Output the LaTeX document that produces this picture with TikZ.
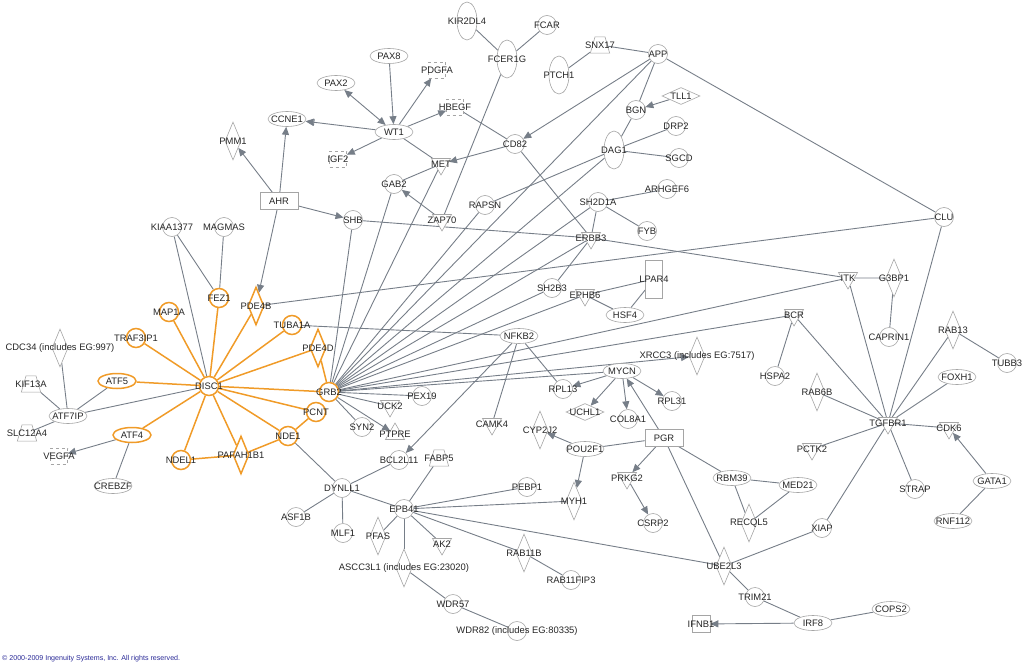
\documentclass[tikz,border=0pt]{standalone}
\usepackage{fontspec}
\setmainfont{Liberation Sans}
\usetikzlibrary{shapes.geometric,arrows.meta,backgrounds}
\definecolor{linegray}{RGB}{118,126,136}
\definecolor{nodegray}{RGB}{165,165,165}
\definecolor{disco}{RGB}{240,155,40}
\definecolor{ipablue}{RGB}{40,40,150}
\newcommand{\lb}[1]{\makebox[0pt]{#1}}
\newcommand{\tb}[1]{\makebox[10pt]{#1}}

\begin{document}
\begin{tikzpicture}[x=1pt,y=-1pt,
    gene/.style={draw=nodegray, line width=0.6pt, fill=white, inner sep=0pt, font=\fontsize{9.4}{11}\selectfont, text=black!85},
    circ/.style={gene, circle, minimum size=19pt},
    ell/.style={gene, ellipse, minimum width=38pt, minimum height=15pt},
    vell/.style={gene, ellipse, minimum width=20pt, minimum height=38pt},
    enz/.style={gene, diamond, minimum width=16pt, minimum height=38pt},
    pep/.style={gene, diamond, minimum width=38pt, minimum height=17pt},
    kin/.style={gene, regular polygon, regular polygon sides=3, shape border rotate=180, minimum size=22pt},
    phos/.style={gene, regular polygon, regular polygon sides=3, minimum size=22pt},
    trans/.style={gene, trapezium, trapezium left angle=74, trapezium right angle=74, inner xsep=0pt, inner ysep=4.8pt},
    nrec/.style={gene, rectangle, minimum width=38pt, minimum height=17pt},
    gpcr/.style={gene, rectangle, minimum width=17pt, minimum height=38pt},
    growf/.style={gene, rectangle, dashed, minimum width=17pt, minimum height=16pt},
    cyto/.style={gene, rectangle, minimum width=18pt, minimum height=17pt},
    hit/.style={draw=disco, line width=1.5pt},
    link/.style={draw=linegray, line width=0.9pt},
    act/.style={link, -{Triangle[length=8pt,width=7pt]}},
    dlink/.style={draw=disco, line width=1.5pt}
]
\useasboundingbox (0,0) rectangle (1024,666);

% DISC1 and its partners
\node[circ, hit] (DISC1) at (209,386) {\lb{DISC1}};
\node[circ, hit] (FEZ1) at (219,298) {\lb{FEZ1}};
\node[circ, hit] (MAP1A) at (169,312) {\lb{MAP1A}};
\node[circ, hit] (TRAF3IP1) at (136,338) {\lb{TRAF3IP1}};
\node[circ, hit] (TUBA1A) at (292,325) {\lb{TUBA1A}};
\node[circ, hit] (GRB2) at (329,392) {\lb{GRB2}};
\node[circ, hit] (PCNT) at (316,412) {\lb{PCNT}};
\node[circ, hit] (NDE1) at (288,436) {\lb{NDE1}};
\node[circ, hit] (NDEL1) at (181,460) {\lb{NDEL1}};
\node[ell, hit] (ATF5) at (117,381) {\lb{ATF5}};
\node[ell, hit] (ATF4) at (132,435) {\lb{ATF4}};
\node[enz, hit] (PDE4B) at (256,306) {\lb{PDE4B}};
\node[enz, hit] (PDE4D) at (318,348) {\lb{PDE4D}};
\node[enz, hit] (PAFAH1B1) at (241,455) {\lb{PAFAH1B1}};

% left side
\node[circ] (KIAA1377) at (172,227) {\lb{KIAA1377}};
\node[circ] (MAGMAS) at (224,227) {\lb{MAGMAS}};
\node[enz] (CDC34) at (60,348) {\lb{CDC34 (includes EG:997)}};
\node[trans] (KIF13A) at (31,384) {\tb{KIF13A}};
\node[ell] (ATF7IP) at (68,416) {\lb{ATF7IP}};
\node[trans] (SLC12A4) at (27,433) {\tb{SLC12A4}};
\node[growf] (VEGFA) at (59,456) {\lb{VEGFA}};
\node[ell] (CREBZF) at (113,486) {\lb{CREBZF}};
\node[enz] (PMM1) at (233,141) {\lb{PMM1}};
\node[nrec] (AHR) at (279,201) {\lb{AHR}};

% top
\node[ell] (PAX8) at (389,56) {\lb{PAX8}};
\node[ell] (PAX2) at (336,83) {\lb{PAX2}};
\node[ell] (CCNE1) at (287,119) {\lb{CCNE1}};
\node[ell] (WT1) at (394,132) {\lb{WT1}};
\node[growf] (PDGFA) at (437,70) {\lb{PDGFA}};
\node[growf] (HBEGF) at (455,107) {\lb{HBEGF}};
\node[growf] (IGF2) at (338,159) {\lb{IGF2}};
\node[kin] (MET) at (441,164) {\lb{MET}};
\node[circ] (GAB2) at (394,184) {\lb{GAB2}};
\node[circ] (SHB) at (353,220) {\lb{SHB}};
\node[kin] (ZAP70) at (442,220) {\lb{ZAP70}};
\node[circ] (RAPSN) at (485,205) {\lb{RAPSN}};
\node[vell] (KIR2DL4) at (467,21) {\lb{KIR2DL4}};
\node[vell] (FCER1G) at (507,59) {\lb{FCER1G}};
\node[circ] (FCAR) at (547,25) {\lb{FCAR}};
\node[trans] (SNX17) at (600,45) {\tb{SNX17}};
\node[vell] (PTCH1) at (559,75) {\lb{PTCH1}};
\node[circ] (APP) at (658,54) {\lb{APP}};
\node[pep] (TLL1) at (681,96) {\lb{TLL1}};
\node[circ] (BGN) at (636,110) {\lb{BGN}};
\node[circ] (CD82) at (515,144) {\lb{CD82}};
\node[vell] (DAG1) at (614,150) {\lb{DAG1}};
\node[circ] (DRP2) at (676,126) {\lb{DRP2}};
\node[circ] (SGCD) at (679,158) {\lb{SGCD}};
\node[circ] (ARHGEF6) at (667,189) {\lb{ARHGEF6}};
\node[circ] (SH2D1A) at (598,202) {\lb{SH2D1A}};
\node[circ] (FYB) at (647,231) {\lb{FYB}};
\node[circ] (CLU) at (944,217) {\lb{CLU}};

% middle
\node[kin] (ERBB3) at (591,238) {\lb{ERBB3}};
\node[circ] (SH2B3) at (552,288) {\lb{SH2B3}};
\node[kin] (EPHB6) at (585,295) {\lb{EPHB6}};
\node[gpcr] (LPAR4) at (654,279) {\lb{LPAR4}};
\node[ell] (HSF4) at (625,315) {\lb{HSF4}};
\node[ell] (NFKB2) at (519,336) {\lb{NFKB2}};
\node[enz] (XRCC3) at (697,356) {\lb{XRCC3 (includes EG:7517)}};
\node[ell] (MYCN) at (622,371) {\lb{MYCN}};
\node[circ] (RPL13) at (563,389) {\lb{RPL13}};
\node[circ] (RPL31) at (672,401) {\lb{RPL31}};
\node[pep] (UCHL1) at (585,412) {\lb{UCHL1}};
\node[circ] (COL8A1) at (628,419) {\lb{COL8A1}};
\node[enz] (CYP2J2) at (540,430) {\lb{CYP2J2}};
\node[nrec] (PGR) at (664,438) {\lb{PGR}};
\node[ell] (POU2F1) at (585,449) {\lb{POU2F1}};
\node[circ] (PEX19) at (422,396) {\lb{PEX19}};
\node[kin] (UCK2) at (390,406) {\lb{UCK2}};
\node[circ] (SYN2) at (362,427) {\lb{SYN2}};
\node[phos] (PTPRE) at (395,434) {\lb{PTPRE}};
\node[kin] (CAMK4) at (492,424) {\lb{CAMK4}};

% right
\node[kin] (ITK) at (848,278) {\lb{ITK}};
\node[enz] (G3BP1) at (894,278) {\lb{G3BP1}};
\node[kin] (BCR) at (794,315) {\lb{BCR}};
\node[circ] (CAPRIN1) at (889,337) {\lb{CAPRIN1}};
\node[enz] (RAB13) at (953,330) {\lb{RAB13}};
\node[circ] (TUBB3) at (1007,363) {\lb{TUBB3}};
\node[circ] (HSPA2) at (775,376) {\lb{HSPA2}};
\node[ell] (FOXH1) at (957,377) {\lb{FOXH1}};
\node[enz] (RAB6B) at (817,392) {\lb{RAB6B}};
\node[kin] (TGFBR1) at (888,423) {\lb{TGFBR1}};
\node[kin] (CDK6) at (949,428) {\lb{CDK6}};
\node[kin] (PCTK2) at (812,449) {\lb{PCTK2}};
\node[circ] (STRAP) at (915,489) {\lb{STRAP}};
\node[ell] (GATA1) at (992,481) {\lb{GATA1}};
\node[ell] (RNF112) at (953,521) {\lb{RNF112}};
\node[ell] (MED21) at (798,485) {\lb{MED21}};
\node[circ] (XIAP) at (822,528) {\lb{XIAP}};

% bottom
\node[circ] (BCL2L11) at (399,460) {\lb{BCL2L11}};
\node[trans] (FABP5) at (439,458) {\tb{FABP5}};
\node[circ] (DYNLL1) at (342,488) {\lb{DYNLL1}};
\node[circ] (EPB41) at (404,509) {\lb{EPB41}};
\node[circ] (ASF1B) at (296,517) {\lb{ASF1B}};
\node[circ] (MLF1) at (343,533) {\lb{MLF1}};
\node[enz] (PFAS) at (378,536) {\lb{PFAS}};
\node[kin] (AK2) at (442,544) {\lb{AK2}};
\node[enz] (ASCC3L1) at (404,568) {\lb{ASCC3L1 (includes EG:23020)}};
\node[circ] (WDR57) at (453,604) {\lb{WDR57}};
\node[circ] (WDR82) at (517,631) {\lb{WDR82 (includes EG:80335)}};
\node[circ] (PEBP1) at (527,487) {\lb{PEBP1}};
\node[enz] (MYH1) at (574,501) {\lb{MYH1}};
\node[kin] (PRKG2) at (627,478) {\lb{PRKG2}};
\node[circ] (CSRP2) at (653,523) {\lb{CSRP2}};
\node[ell] (RBM39) at (732,478) {\lb{RBM39}};
\node[enz] (RECQL5) at (749,523) {\lb{RECQL5}};
\node[enz] (RAB11B) at (524,553) {\lb{RAB11B}};
\node[circ] (RAB11FIP3) at (571,580) {\lb{RAB11FIP3}};
\node[enz] (UBE2L3) at (724,566) {\lb{UBE2L3}};
\node[circ] (TRIM21) at (755,597) {\lb{TRIM21}};
\node[cyto] (IFNB1) at (701,624) {\lb{IFNB1}};
\node[ell] (IRF8) at (813,623) {\lb{IRF8}};
\node[ell] (COPS2) at (891,609) {\lb{COPS2}};

\node[font=\fontsize{7.1}{8}\selectfont, text=ipablue, anchor=west, inner sep=0pt] (copy) at (2,659) {© 2000-2009 Ingenuity Systems, Inc. All rights reserved.};

\begin{scope}[on background layer]
% DISC1 interactions
\foreach \t in {FEZ1,MAP1A,TRAF3IP1,ATF5,ATF4,PDE4B,TUBA1A,PDE4D,GRB2,PCNT,NDE1,NDEL1,PAFAH1B1}
  \draw[dlink] (DISC1) -- (\t);
\draw[dlink] (PDE4D) -- (GRB2);
\draw[dlink] (PCNT) -- (NDE1);
\draw[dlink] (NDEL1) -- (PAFAH1B1);
\draw[dlink] (PAFAH1B1) -- (NDE1);

% left
\draw[link] (KIAA1377) -- (DISC1);
\draw[link] (KIAA1377) -- (FEZ1);
\draw[link] (MAGMAS) -- (FEZ1);
\foreach \s in {CDC34,KIF13A,ATF5,SLC12A4,DISC1}
  \draw[link] (\s) -- (ATF7IP);
\draw[act] (ATF4) -- (VEGFA);
\draw[link] (ATF4) -- (CREBZF);
\foreach \t in {PMM1,CCNE1,SHB,PDE4B}
  \draw[act] (AHR) -- (\t);

% WT1 and top
\draw[link, -{Bar[width=7pt] Triangle[length=8pt,width=7pt]}] (WT1) -- (CCNE1);
\draw[link, {Triangle[length=8pt,width=7pt]}-{Triangle[length=8pt,width=7pt]}] (PAX2) -- (WT1);
\draw[act] (PAX8) -- (WT1);
\draw[act] (WT1) -- (PDGFA);
\draw[act] (WT1) -- (HBEGF);
\draw[act] (WT1) -- (IGF2);
\draw[link] (WT1) -- (MET);
\draw[link] (HBEGF) -- (CD82);
\draw[act] (CD82) -- (MET);
\draw[link] (MET) -- (GAB2);
\draw[act] (ZAP70) -- (GAB2);
\draw[link] (FCER1G) -- (ZAP70);
\draw[link] (KIR2DL4) -- (FCER1G);
\draw[link] (FCER1G) -- (FCAR);
\draw[link] (SNX17) -- (PTCH1);
\draw[link] (SNX17) -- (APP);
\draw[act] (APP) -- (CD82);
\draw[link] (APP) -- (BGN);
\draw[act] (TLL1) -- (BGN);
\draw[link] (BGN) -- (DAG1);
\draw[link] (DAG1) -- (DRP2);
\draw[link] (DAG1) -- (SGCD);
\draw[link] (DAG1) -- (RAPSN);
\draw[link] (APP) -- (CLU);
\draw[link] (CD82) -- (ERBB3);
\draw[link] (SH2D1A) -- (ARHGEF6);
\draw[link] (SH2D1A) -- (FYB);
\draw[link] (SH2D1A) -- (ERBB3);
\draw[link] (SHB) -- (ERBB3);
\draw[link] (ERBB3) -- (ITK);
\draw[link] (ERBB3) -- (SH2B3);
\draw[link] (PDE4B) -- (CLU);
\draw[link] (TUBA1A) -- (NFKB2);

% GRB2 hub
\foreach \s in {SHB,GAB2,MET,RAPSN,APP,DAG1,SH2D1A,ERBB3,SH2B3,EPHB6,ITK,BCR,MYCN}
  \draw[link] (\s) -- (GRB2);
\draw[act] (GRB2) -- (XRCC3);
\draw[link] (GRB2) -- (PEX19);
\draw[link] (GRB2) -- (UCK2);
\draw[act] (GRB2) -- (PTPRE);
\draw[link] (GRB2) -- (SYN2);

% middle
\draw[link] (LPAR4) -- (EPHB6);
\draw[link] (LPAR4) -- (HSF4);
\draw[link] (EPHB6) -- (HSF4);
\draw[link] (NFKB2) -- (RPL13);
\draw[link] (NFKB2) -- (CAMK4);
\draw[act] (NFKB2) -- (BCL2L11);
\foreach \t in {RPL13,UCHL1,COL8A1,RPL31}
  \draw[act] (MYCN) -- (\t);
\draw[act] (PGR) -- (MYCN);
\draw[act] (POU2F1) -- (CYP2J2);
\draw[act] (POU2F1) -- (MYH1);
\draw[link] (PGR) -- (POU2F1);
\draw[act] (PGR) -- (PRKG2);
\draw[act] (PRKG2) -- (CSRP2);
\draw[link] (PGR) -- (RBM39);
\draw[link] (PGR) -- (UBE2L3);
\draw[link] (RBM39) -- (MED21);
\draw[link] (RBM39) -- (RECQL5);
\draw[link] (MED21) -- (RECQL5);

% TGFBR1 side
\draw[link] (ITK) -- (G3BP1);
\draw[link] (G3BP1) -- (CAPRIN1);
\draw[link] (BCR) -- (HSPA2);
\foreach \s in {ITK,CLU,BCR,RAB6B,RAB13,FOXH1}
  \draw[link] (\s) -- (TGFBR1);
\draw[link] (RAB13) -- (TUBB3);
\draw[link] (TGFBR1) -- (CDK6);
\draw[act] (GATA1) -- (CDK6);
\draw[link] (GATA1) -- (RNF112);
\foreach \t in {PCTK2,STRAP,XIAP}
  \draw[link] (TGFBR1) -- (\t);
\draw[link] (XIAP) -- (UBE2L3);
\draw[link] (UBE2L3) -- (TRIM21);
\draw[link] (TRIM21) -- (IRF8);
\draw[act] (IRF8) -- (IFNB1);
\draw[link] (IRF8) -- (COPS2);

% EPB41 and bottom
\foreach \t in {UBE2L3,MYH1,PEBP1,RAB11B,FABP5,DYNLL1,PFAS,AK2,ASCC3L1}
  \draw[link] (EPB41) -- (\t);
\draw[link] (RAB11B) -- (RAB11FIP3);
\draw[link] (ASCC3L1) -- (WDR57);
\draw[link] (WDR57) -- (WDR82);
\foreach \t in {BCL2L11,NDE1,ASF1B,MLF1}
  \draw[link] (DYNLL1) -- (\t);
\end{scope}

\end{tikzpicture}
\end{document}
